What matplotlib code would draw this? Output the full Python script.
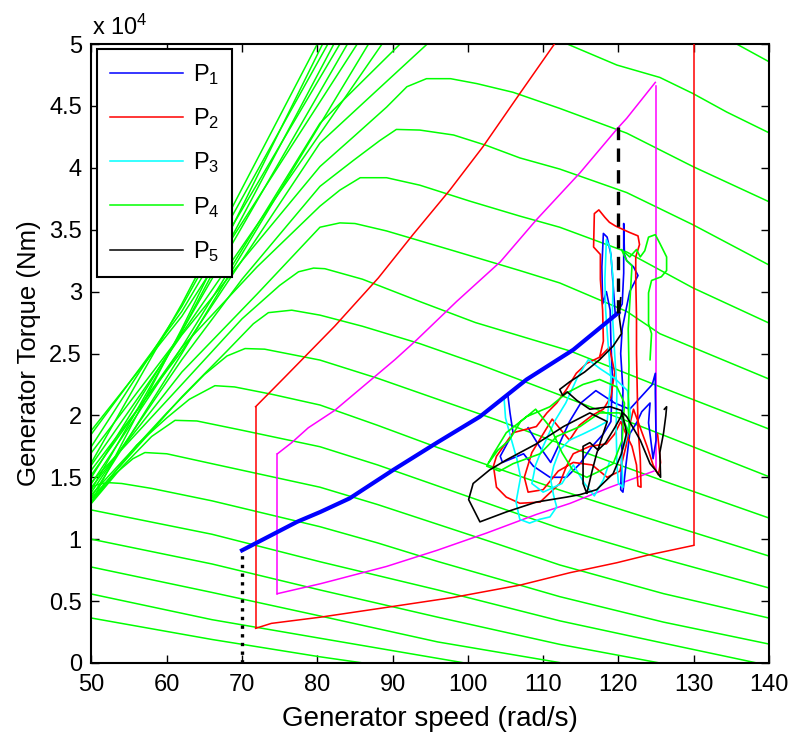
import matplotlib.pyplot as plt
from matplotlib.lines import Line2D

# =====================================
# Fonts
# =====================================

plt.rcParams['font.family'] = ['Liberation Sans', 'DejaVu Sans']
plt.rcParams['mathtext.fontset'] = 'custom'
plt.rcParams['mathtext.rm'] = 'Liberation Sans'
plt.rcParams['mathtext.it'] = 'Liberation Sans'

# =====================================
# Data  (speed rad/s, torque in 1e4 Nm)
# =====================================

x_ticks = [50, 60, 70, 80, 90, 100, 110, 120, 130, 140]
y_ticks = [0, 0.5, 1, 1.5, 2, 2.5, 3, 3.5, 4, 4.5, 5]
y_tick_labels = ['0', '0.5', '1', '1.5', '2', '2.5', '3', '3.5', '4', '4.5', '5']

# P4 torque curves that leave through the top of the plot
p4_bundle = [
    [(50, 1.62), (62, 2.90), (80.0, 5.0)],
    [(50, 1.30), (62, 2.70), (80.7, 5.0)],
    [(50, 1.75), (62, 2.88), (81.4, 5.0)],
    [(50, 1.40), (62, 2.68), (82.2, 5.0)],
    [(50, 1.85), (62, 2.84), (83.0, 5.0)],
    [(50, 1.50), (62, 2.68), (84.0, 5.0)],
    [(50, 1.88), (62, 2.80), (85.3, 5.0)],
    [(50, 1.34), (62, 2.50), (86.8, 5.0)],
    [(50, 1.70), (62, 2.66), (88.6, 5.0)],
]

# P4 curves that leave through the top and come back in
p4_reenter = [
    [(50, 1.45), (62, 2.55), (80.35, 4.36), (91, 5.0), (100, 5.3),
     (115, 5.35), (128, 5.2), (135.7, 5.0), (140, 4.857)],
    [(50, 1.56), (62, 2.52), (80.35, 4.20), (88, 4.63), (94.6, 5.0),
     (104, 5.15), (113.2, 5.0), (119.8, 4.83), (125.5, 4.73),
     (129.9, 4.60), (134.4, 4.45), (140, 4.283)],
]

# P4 curves with a visible maximum
p4_peaked = [
    [(50, 1.60), (62, 2.65), (70, 3.25), (80.35, 4.01), (84.8, 4.25),
     (89.2, 4.49), (91.9, 4.655), (94.5, 4.72), (97.7, 4.72),
     (101.2, 4.68), (106, 4.61), (112.2, 4.48), (121.1, 4.28),
     (129.9, 4.01), (140, 3.726)],
    [(50, 1.38), (62, 2.45), (70, 3.10), (80.35, 3.85), (84.8, 4.06),
     (88.3, 4.22), (90.5, 4.31), (93.6, 4.305), (98.1, 4.265),
     (102.5, 4.18), (106.9, 4.08), (112.2, 3.99), (121.1, 3.80),
     (129.9, 3.54), (140, 3.215)],
    [(50, 1.52), (62, 2.55), (72, 3.20), (80.35, 3.69), (83, 3.82),
     (85.7, 3.92), (89.2, 3.92), (93.6, 3.86), (100.3, 3.73),
     (106.9, 3.61), (112.2, 3.52), (121.1, 3.32), (129.9, 3.03),
     (140, 2.746)],
    [(50, 1.42), (62, 2.35), (72, 2.98), (80.35, 3.52), (83, 3.555),
     (85, 3.55), (89.2, 3.49), (98.1, 3.33), (106.9, 3.17),
     (112.2, 3.07), (121.1, 2.84), (125.5, 2.66), (140, 2.294)],
    [(50, 1.46), (62, 2.25), (70, 2.78), (75, 3.05), (77.5, 3.16),
     (79.5, 3.19), (81, 3.185), (86, 3.10), (93.6, 2.92), (101, 2.75),
     (113.6, 2.52), (126, 2.22), (140, 1.890)],
    [(50, 1.33), (62, 2.15), (68, 2.52), (71.5, 2.74), (73.5, 2.83),
     (76.6, 2.85), (80.35, 2.81), (86, 2.72), (93.6, 2.58),
     (101.6, 2.41), (112.2, 2.165), (126, 1.84), (140, 1.505)],
    [(50, 1.36), (60, 2.02), (65, 2.33), (68, 2.48), (70.4, 2.54),
     (73, 2.535), (80.35, 2.447), (88, 2.30), (96, 2.13), (104, 1.96),
     (112.2, 1.774), (126, 1.47), (140, 1.171)],
    [(50, 1.31), (56, 1.76), (60, 1.98), (63, 2.13), (66.4, 2.24),
     (69, 2.23), (74, 2.17), (80.35, 2.084), (88, 1.92), (96, 1.74),
     (104, 1.57), (112.2, 1.397), (126, 1.13), (140, 0.864)],
    [(50, 1.29), (54, 1.58), (58, 1.83), (61.1, 1.96), (64, 1.955),
     (70, 1.88), (80.35, 1.747), (88, 1.60), (96, 1.43), (104, 1.26),
     (112.2, 1.088), (126, 0.84), (140, 0.606)],
    [(50, 1.30), (53, 1.52), (55.5, 1.65), (57.1, 1.70), (60, 1.69),
     (66, 1.61), (80.35, 1.42), (88, 1.28), (96, 1.12), (104, 0.96),
     (112.2, 0.792), (126, 0.56), (140, 0.363)],
    [(50, 1.42), (51, 1.445), (52.2, 1.457), (54, 1.45), (58, 1.41),
     (66, 1.31), (80.35, 1.101), (88, 0.97), (96, 0.82), (104, 0.68),
     (112.2, 0.536), (126, 0.33), (140, 0.153)],
]

# P4 curves that only fall
p4_low = [
    [(50, 1.236), (66, 1.04), (80.35, 0.818), (96, 0.59),
     (112.24, 0.34), (126, 0.16), (138.4, 0.0)],
    [(50, 1.0), (66, 0.80), (80.35, 0.59), (96, 0.37), (112.24, 0.15),
     (125.5, 0.0)],
    [(50, 0.775), (66, 0.57), (80.35, 0.38), (96, 0.17), (112.5, 0.0)],
    [(50, 0.557), (66, 0.35), (80.35, 0.20), (99.6, 0.0)],
    [(50, 0.363), (66, 0.19), (80.35, 0.05), (86.1, 0.0)],
]

# red operating region
red_left = [(71.8, 0.28), (71.8, 2.07)]
red_top = [(71.8, 2.07), (75.7, 2.31), (78.6, 2.49), (82.3, 2.72),
           (88.1, 3.11), (92.7, 3.46), (97.6, 3.82), (102, 4.17),
           (106.9, 4.60), (111.5, 5.0)]
red_right = [(130, 5.0), (130, 0.95)]
red_bottom = [(71.8, 0.28), (73.9, 0.32), (80.4, 0.37), (89.3, 0.45),
              (98.1, 0.53), (107, 0.63), (113.6, 0.73), (119.8, 0.81),
              (123.8, 0.87), (130, 0.95)]

# magenta operating region
mag_left = [(74.7, 0.56), (74.7, 1.69)]
mag_top = [(74.7, 1.69), (76.6, 1.78), (78.8, 1.90), (82.3, 2.04),
           (90.3, 2.45), (93.2, 2.61), (98.5, 2.92), (104.3, 3.24),
           (109.1, 3.58), (114.9, 3.96), (119.9, 4.32), (121.1, 4.40),
           (124.9, 4.69)]
mag_right = [(125.0, 4.66), (125.0, 1.55)]
mag_bottom = [(74.7, 0.56), (80.4, 0.64), (82.3, 0.67), (89.2, 0.78),
              (95.9, 0.91), (102.5, 1.05), (109.1, 1.20), (113.6, 1.29),
              (118.9, 1.42), (124.7, 1.55)]

# P1 reference path (thick) and the two guide lines
p1_ref = [(70, 0.91), (77.3, 1.14), (80.4, 1.22), (84.3, 1.33),
          (90.1, 1.56), (95.9, 1.78), (101.6, 1.99), (107.8, 2.29),
          (114, 2.53), (117, 2.68), (120, 2.83)]
dotted_guide = [(70, 0.0), (70, 0.91)]
dashed_guide = [(120, 2.83), (120, 4.33)]

# simulated trajectories
p1_traj = [(105.3, 2.17), (105.6, 2.02), (106, 1.86), (104.3, 1.67),
           (104.6, 1.62), (107.4, 1.69), (108.7, 1.59), (110.9, 1.50),
           (113.1, 1.50), (114.9, 1.61), (116.5, 1.75), (118.0, 1.85),
           (119.0, 1.95), (119.2, 2.3), (119.0, 2.6), (118.9, 2.85),
           (118.4, 3.0), (117.9, 2.90), (117.8, 3.2), (118.0, 3.47),
           (118.5, 3.44), (119.0, 3.3), (119.3, 3.05), (119.6, 2.80),
           (120.5, 2.9), (120.7, 3.15), (120.7, 3.55), (120.8, 3.3),
           (121.1, 3.25), (122.0, 3.2), (122.6, 3.13), (121.5, 3.0),
           (120.5, 2.7), (120.3, 2.5), (120.6, 2.2), (120.5, 1.9),
           (120.4, 1.6), (120.3, 1.40), (120.6, 1.38), (121.0, 1.6),
           (121.5, 1.85), (122.5, 1.95), (123.1, 2.03), (124.2, 2.10),
           (124.0, 1.94), (124.3, 1.80), (124.6, 1.65), (125.0, 1.80),
           (124.9, 2.18), (124.9, 2.34), (124.5, 2.25), (123.0, 2.15),
           (121.5, 2.05), (119.5, 2.10), (117.0, 2.20), (115.0, 2.10),
           (113.5, 1.95), (112.0, 1.75), (111.0, 1.62), (109.5, 1.75),
           (108.0, 1.90)]
p2_traj = [(117.5, 2.47), (118.0, 2.60), (117.9, 2.85), (117.6, 3.10),
           (117.6, 3.30), (116.7, 3.36), (116.8, 3.63), (117.4, 3.66),
           (118.2, 3.60), (118.8, 3.56), (119.6, 3.53), (121.4, 3.48),
           (122.6, 3.45), (122.8, 3.38), (122.3, 3.28), (122.3, 3.10),
           (122.4, 2.80), (122.4, 2.50), (122.5, 2.20), (122.6, 1.90),
           (122.9, 1.65), (123.0, 1.42), (122.6, 1.43), (122.4, 1.60),
           (121.8, 1.75), (121.0, 1.85), (120.3, 1.95), (119.5, 1.85),
           (118.4, 1.77), (116.2, 1.75), (114.0, 1.69), (113.1, 1.59),
           (112.2, 1.45), (109.6, 1.30), (106.9, 1.29), (105.1, 1.34),
           (103.8, 1.42), (103.4, 1.59), (103.8, 1.67), (106, 1.86),
           (109.1, 1.91), (110.5, 2.02), (111.8, 2.10), (113.1, 2.21),
           (114.4, 2.34), (115.8, 2.42), (117.5, 2.47), (118.8, 2.55),
           (119.5, 2.35), (119.0, 2.15), (118.0, 2.05), (116.5, 2.00),
           (114.8, 1.92), (113.5, 1.80), (112.4, 1.88), (111.2, 1.97),
           (110.0, 1.85), (108.5, 1.70), (107.5, 1.50), (108.0, 1.38),
           (110.0, 1.40), (112.0, 1.55), (114.0, 1.62), (116.5, 1.60),
           (118.5, 1.50), (120.2, 1.55), (121.0, 1.75), (121.6, 1.95),
           (122.0, 2.05), (123.8, 1.75), (124.6, 1.60), (125.3, 1.52),
           (125.6, 1.62), (125.2, 1.85)]
p3_traj = [(104.8, 2.15), (105.0, 1.98), (105.8, 1.80), (106.5, 1.65),
           (107.0, 1.50), (106.4, 1.30), (106.9, 1.16), (108.2, 1.13),
           (109.5, 1.16), (110.9, 1.18), (111.8, 1.26), (111.4, 1.35),
           (111.0, 1.48), (111.4, 1.59), (112.2, 1.72), (113.5, 1.80),
           (115.3, 1.85), (117.0, 1.90), (118.5, 1.95), (119.0, 2.3),
           (118.6, 2.6), (118.3, 2.85), (118.2, 3.1), (118.4, 3.42),
           (118.9, 3.35), (119.3, 3.1), (119.2, 2.82), (119.5, 2.5),
           (119.8, 2.2), (119.7, 1.9), (119.8, 1.6), (120.0, 1.45),
           (120.6, 1.42), (120.4, 1.7), (121.0, 1.8), (121.6, 2.00),
           (121.2, 2.20), (119.5, 2.30), (117.5, 2.38), (116.0, 2.45),
           (114.5, 2.30), (113.0, 2.10), (111.5, 1.95), (110.0, 1.75),
           (109.0, 1.60), (108.5, 1.45), (110.0, 1.38), (112.5, 1.45),
           (114.0, 1.60), (115.5, 1.45), (116.8, 1.35), (118.0, 1.48),
           (118.8, 1.62)]
p4_traj = [(124.2, 2.45), (124.4, 2.66), (124.0, 2.74), (124.0, 2.99),
           (124.4, 3.09), (125.7, 3.12), (126.4, 3.17), (126.4, 3.28),
           (125.5, 3.39), (124.9, 3.46), (124.0, 3.44), (123.5, 3.33),
           (122.9, 3.28), (122.4, 3.34), (121.5, 3.28), (120.4, 3.34),
           (121.1, 3.25), (121.8, 3.21), (121.6, 3.0), (121.3, 2.7),
           (121.4, 2.4), (121.3, 2.07), (121.5, 1.85), (120.2, 2.02),
           (117.5, 2.02), (114.9, 1.91), (111.8, 1.83), (109.6, 1.69),
           (106.0, 1.61), (104.2, 1.55), (102.5, 1.59), (103.4, 1.69),
           (105.1, 1.86), (107.8, 1.99), (110.9, 2.07), (113.1, 2.18),
           (115.3, 2.25), (117.5, 2.29), (119.8, 2.23), (120.8, 2.1),
           (120.5, 1.8), (119.3, 1.61), (117.5, 1.55), (115.8, 1.50),
           (114.0, 1.55), (112.5, 1.70), (111.0, 1.90), (109.0, 2.05),
           (107.0, 1.95), (105.5, 1.80), (104.0, 1.72), (102.8, 1.62)]
p5_traj = [(120.3, 2.95), (120.1, 2.80), (120.4, 2.66), (119.3, 2.56),
           (117.5, 2.45), (115.5, 2.35), (113.5, 2.27), (112.2, 2.21),
           (112.6, 2.16), (113.2, 2.19), (114.5, 2.12), (116.2, 2.05),
           (118.9, 2.07), (120.4, 2.04), (121.1, 1.86), (120.4, 1.69),
           (119.3, 1.53), (117.1, 1.40), (114.9, 1.36), (113.1, 1.34),
           (109.1, 1.30), (105.1, 1.22), (101.6, 1.14), (100.1, 1.32),
           (100.7, 1.45), (102.9, 1.56), (105.1, 1.64), (109.1, 1.77),
           (112.7, 1.91), (116.2, 2.02), (118.5, 1.95), (117.1, 1.69),
           (116.5, 1.55), (115.8, 1.37), (115.3, 1.45), (115.3, 1.75),
           (116.2, 1.78), (117.3, 1.72), (118.3, 1.78), (119.5, 1.90),
           (120.6, 2.02), (121.1, 1.99), (122.9, 1.80), (124.2, 1.61),
           (124.9, 1.56), (125.6, 1.50), (125.5, 1.70), (126.0, 1.86),
           (126.3, 2.0), (126.4, 2.07), (126.1, 2.05)]

legend_labels = ['$\\mathregular{P_1}$', '$\\mathregular{P_2}$',
                 '$\\mathregular{P_3}$', '$\\mathregular{P_4}$',
                 '$\\mathregular{P_5}$']
legend_colors = ['#0000ff', '#ff0000', '#00ffff', '#00ff00', '#000000']


def draw(ax, pts, **kw):
    xs = [p[0] for p in pts]
    ys = [p[1] for p in pts]
    return ax.plot(xs, ys, **kw)


# =====================================
# Figure
# =====================================

fig = plt.figure(figsize=(7.9, 7.36), dpi=100)
ax = fig.add_axes([0.1158, 0.0992, 0.8576, 0.8410])

for curve in p4_bundle + p4_reenter + p4_peaked + p4_low:
    draw(ax, curve, color='#00ff00', lw=1.1, zorder=2)

for seg in [red_left, red_top, red_right, red_bottom]:
    draw(ax, seg, color='#ff0000', lw=1.1, zorder=3)

for seg in [mag_left, mag_top, mag_right, mag_bottom]:
    draw(ax, seg, color='#ff00ff', lw=1.1, zorder=3)

draw(ax, p1_traj, color='#0000ff', lw=1.2, zorder=4)
draw(ax, p2_traj, color='#ff0000', lw=1.2, zorder=4)
draw(ax, p3_traj, color='#00ffff', lw=1.2, zorder=4)
draw(ax, p4_traj, color='#00ff00', lw=1.2, zorder=4)
draw(ax, p5_traj, color='#000000', lw=1.2, zorder=4)

draw(ax, p1_ref, color='#0000ff', lw=3.0, zorder=5)
draw(ax, dotted_guide, color='black', lw=2.4, ls=(0, (1, 1.6)), zorder=5)
draw(ax, dashed_guide, color='black', lw=2.4, ls=(0, (4, 2.5)), zorder=5)

ax.set_xlim(50, 140)
ax.set_ylim(0, 5)
ax.set_xticks(x_ticks)
ax.set_yticks(y_ticks)
ax.set_yticklabels(y_tick_labels)
ax.tick_params(direction='in', top=True, right=True, length=6, width=1,
               labelsize=17)
ax.tick_params(axis='x', pad=8)
ax.tick_params(axis='y', pad=7)
for sp in ax.spines.values():
    sp.set_linewidth(1.5)

ax.set_xlabel('Generator speed (rad/s)', fontsize=20, labelpad=7)
ax.set_ylabel('Generator Torque (Nm)', fontsize=18.5, labelpad=6)
fig.text(0.117, 0.952, 'x 10$^{4}$', fontsize=17)

handles = [Line2D([], [], color=c, lw=1.1) for c in legend_colors]
leg = ax.legend(handles, legend_labels, loc='upper left',
                bbox_to_anchor=(0.008, 0.992), fontsize=17,
                handlelength=3.1, labelspacing=0.82, borderpad=0.55,
                handletextpad=0.4, fancybox=False, framealpha=1,
                edgecolor='black', borderaxespad=0)
leg.get_frame().set_linewidth(1.5)

fig.savefig('out.png', dpi=100)
